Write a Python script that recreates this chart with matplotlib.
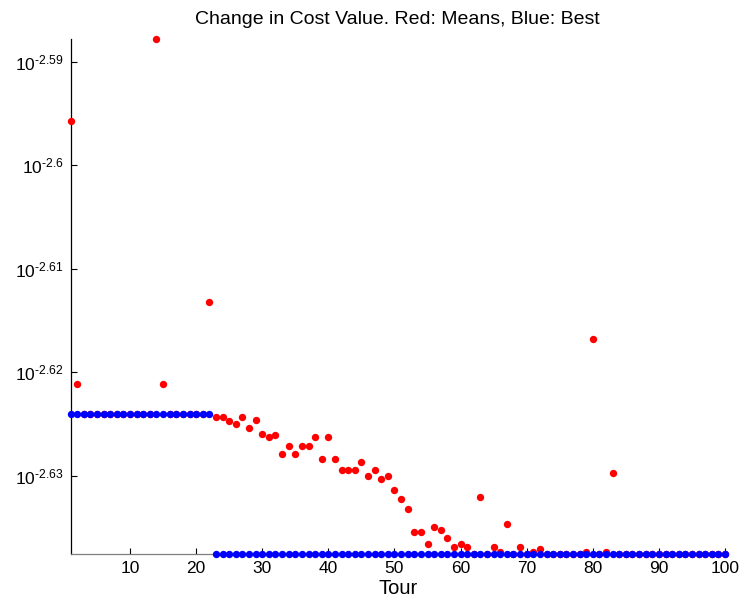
import matplotlib

matplotlib.use("Agg")
import matplotlib.pyplot as plt
import numpy as np
from matplotlib.ticker import NullLocator

plt.rcParams.update({
    "font.family": ["Liberation Sans", "DejaVu Sans"],
    "mathtext.fontset": "custom",
    "mathtext.rm": "Liberation Sans",
    "mathtext.it": "Liberation Sans",
})

# tour index 1..100
tours = np.arange(1, 101)

# log10 of the mean cost per tour
mean_exp = [
    -2.59570, -2.62117, -2.62407, -2.62407, -2.62407, -2.62407, -2.62407, -2.62407, -2.62407, -2.62407,
    -2.62407, -2.62407, -2.62407, -2.58784, -2.62117, -2.62407, -2.62407, -2.62407, -2.62407, -2.62407,
    -2.62407, -2.61319, -2.62436, -2.62436, -2.62469, -2.62498, -2.62436, -2.62536, -2.62465, -2.62597,
    -2.62626, -2.62610, -2.62787, -2.62713, -2.62787, -2.62713, -2.62713, -2.62626, -2.62841, -2.62626,
    -2.62841, -2.62945, -2.62945, -2.62945, -2.62871, -2.63003, -2.62945, -2.63032, -2.63003, -2.63135,
    -2.63225, -2.63325, -2.63541, -2.63541, -2.63657, -2.63499, -2.63528, -2.63602, -2.63686, -2.63657,
    -2.63686, -2.63761, -2.63206, -2.63761, -2.63686, -2.63734, -2.63470, -2.63761, -2.63686, -2.63761,
    -2.63734, -2.63711, -2.63761, -2.63761, -2.63761, -2.63761, -2.63761, -2.63761, -2.63740, -2.61679,
    -2.63761, -2.63734, -2.62974, -2.63761, -2.63761, -2.63761, -2.63761, -2.63761, -2.63761, -2.63761,
    -2.63761, -2.63761, -2.63761, -2.63761, -2.63761, -2.63761, -2.63761, -2.63761, -2.63761, -2.63761,
]

# log10 of the best cost per tour
best_exp = [
    -2.62407, -2.62407, -2.62407, -2.62407, -2.62407, -2.62407, -2.62407, -2.62407, -2.62407, -2.62407,
    -2.62407, -2.62407, -2.62407, -2.62407, -2.62407, -2.62407, -2.62407, -2.62407, -2.62407, -2.62407,
    -2.62407, -2.62407, -2.63761, -2.63761, -2.63761, -2.63761, -2.63761, -2.63761, -2.63761, -2.63761,
    -2.63761, -2.63761, -2.63761, -2.63761, -2.63761, -2.63761, -2.63761, -2.63761, -2.63761, -2.63761,
    -2.63761, -2.63761, -2.63761, -2.63761, -2.63761, -2.63761, -2.63761, -2.63761, -2.63761, -2.63761,
    -2.63761, -2.63761, -2.63761, -2.63761, -2.63761, -2.63761, -2.63761, -2.63761, -2.63761, -2.63761,
    -2.63761, -2.63761, -2.63761, -2.63761, -2.63761, -2.63761, -2.63761, -2.63761, -2.63761, -2.63761,
    -2.63761, -2.63761, -2.63761, -2.63761, -2.63761, -2.63761, -2.63761, -2.63761, -2.63761, -2.63761,
    -2.63761, -2.63761, -2.63761, -2.63761, -2.63761, -2.63761, -2.63761, -2.63761, -2.63761, -2.63761,
    -2.63761, -2.63761, -2.63761, -2.63761, -2.63761, -2.63761, -2.63761, -2.63761, -2.63761, -2.63761,
]

ytick_exp = [-2.63, -2.62, -2.61, -2.6, -2.59]
ytick_text = ["-2.63", "-2.62", "-2.61", "-2.6", "-2.59"]
xticks = [10, 20, 30, 40, 50, 60, 70, 80, 90, 100]

means = 10.0 ** np.array(mean_exp)
best = 10.0 ** np.array(best_exp)

fig = plt.figure(figsize=(7.44, 6.08), dpi=100)
ax = fig.add_axes([0.0948, 0.0883, 0.8797, 0.8470])

ax.plot(tours, means, "o", color="#ff0000", ms=5.3, mew=0, clip_on=False, zorder=3)
ax.plot(tours, best, "o", color="#0000ff", ms=5.3, mew=0, clip_on=False, zorder=4)

ax.set_yscale("log")
ax.set_xlim(1, 100)
ax.set_ylim(best.min(), means.max())
ax.yaxis.set_minor_locator(NullLocator())
ax.set_yticks([10.0 ** e for e in ytick_exp],
              [r"$\mathregular{10^{\text{%s}}}$" % t for t in ytick_text])
ax.set_xticks(xticks, [str(t) for t in xticks])

ax.spines["top"].set_visible(False)
ax.spines["right"].set_visible(False)
ax.spines["left"].set_color("black")
ax.spines["left"].set_linewidth(0.9)
ax.spines["bottom"].set_color("#7f7f7f")
ax.spines["bottom"].set_linewidth(0.9)
ax.tick_params(direction="in", length=4, width=0.8, color="black",
               labelsize=12.5, labelcolor="black", pad=5)

ax.set_title("Change in Cost Value. Red: Means, Blue: Best", fontsize=14, pad=11)
ax.set_xlabel("Tour", fontsize=14.5, labelpad=2)

fig.savefig("out.png", dpi=100)
